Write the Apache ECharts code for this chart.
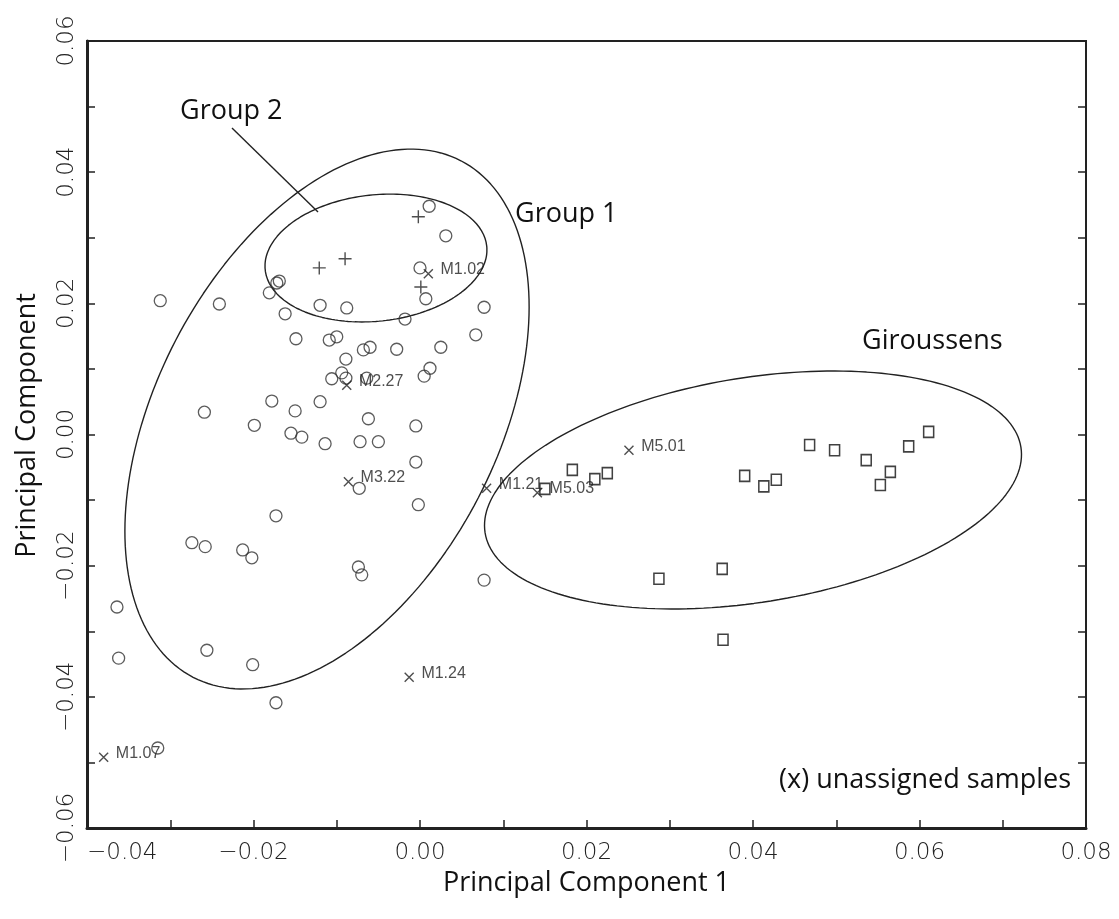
<!DOCTYPE html>
<html>
<head>
<meta charset="utf-8">
<script src="https://cdn.jsdelivr.net/npm/echarts@6/dist/echarts.min.js"></script>
<style>
html,body{margin:0;padding:0;background:#fff;}
#chart{width:1119px;height:919px;}
</style>
</head>
<body>
<div id="chart"></div>
<script>
// ---------- data ----------
const xTickLabels = ['\u22120.04', '\u22120.02', '0.00', '0.02', '0.04', '0.06', '0.08'];
const yTickLabels = ['\u22120.06', '\u22120.04', '\u22120.02', '0.00', '0.02', '0.04', '0.06'];

// Group 1 samples (circles)
const group1Points = [
  [0.0011, 0.0348], [0.0031, 0.0303], [0.0000, 0.0254], [0.0007, 0.0207],
  [-0.0172, 0.0231], [-0.0169, 0.0234], [-0.0181, 0.0216], [-0.0312, 0.0204],
  [-0.0241, 0.0199], [-0.0162, 0.0184], [-0.0120, 0.0197], [-0.0088, 0.0193],
  [-0.0018, 0.0176], [0.0077, 0.0194], [0.0067, 0.0152], [-0.0149, 0.0146],
  [-0.0109, 0.0144], [-0.0100, 0.0149], [-0.0068, 0.0129], [-0.0060, 0.0133],
  [-0.0028, 0.0130], [0.0025, 0.0133], [0.0012, 0.0101], [0.0005, 0.0089],
  [-0.0089, 0.0115], [-0.0094, 0.0094], [-0.0106, 0.0085], [-0.0089, 0.0086],
  [-0.0064, 0.0086], [-0.0259, 0.0034], [-0.0178, 0.0051], [-0.0150, 0.0036],
  [-0.0120, 0.0050], [-0.0199, 0.0014], [-0.0155, 0.0002], [-0.0142, -0.0004],
  [-0.0114, -0.0014], [-0.0062, 0.0024], [-0.0005, 0.0013], [-0.0072, -0.0011],
  [-0.0050, -0.0011], [-0.0005, -0.0042], [-0.0073, -0.0082], [-0.0002, -0.0107],
  [-0.0173, -0.0124], [-0.0274, -0.0165], [-0.0258, -0.0171], [-0.0213, -0.0176],
  [-0.0202, -0.0188], [-0.0074, -0.0202], [-0.0070, -0.0214], [0.0077, -0.0222],
  [-0.0364, -0.0263], [-0.0362, -0.0341], [-0.0256, -0.0329], [-0.0201, -0.0351],
  [-0.0173, -0.0409], [-0.0315, -0.0478]
];

// Group 2 samples (plus signs)
const group2Points = [
  [-0.0002, 0.0332], [-0.0090, 0.0268], [-0.0121, 0.0254], [0.0001, 0.0225]
];

// Giroussens samples (squares)
const giroussensPoints = [
  [0.0150, -0.0083], [0.0183, -0.0054], [0.0210, -0.0068], [0.0225, -0.0059],
  [0.0287, -0.0220], [0.0363, -0.0205], [0.0364, -0.0313], [0.0390, -0.0063],
  [0.0413, -0.0079], [0.0428, -0.0069], [0.0468, -0.0016], [0.0498, -0.0024],
  [0.0536, -0.0039], [0.0553, -0.0077], [0.0565, -0.0057], [0.0587, -0.0018],
  [0.0611, 0.0004]
];

// Unassigned samples (x)
const unassignedNames = ['M1.02', 'M2.27', 'M3.22', 'M1.21', 'M5.03', 'M5.01', 'M1.24', 'M1.07'];
const unassignedX = [0.0010, -0.0088, -0.0086, 0.0080, 0.0141, 0.0251, -0.0013, -0.0380];
const unassignedY = [0.0245, 0.0075, -0.0072, -0.0082, -0.0089, -0.0024, -0.0370, -0.0492];

// Group boundary ellipses: [centre x, centre y, half-axis U (x,y), half-axis V (x,y)]
const group1Ellipse = [-0.01117, 0.00236, 0.01608, 0.03938, -0.01819, 0.01197];
const group2Ellipse = [-0.00529, 0.02691, 0.013305, 0.001819, -0.000813, 0.009578];
const giroussensEllipse = [0.0400, -0.00846, 0.03218, 0.00654, -0.002136, 0.016921];

// ---------- build ----------
function ellipseOutline(p) {
  const [cx, cy, ux, uy, vx, vy] = p;
  const pts = [];
  const n = 200;
  for (let i = 0; i <= n; i++) {
    const t = 2 * Math.PI * i / n;
    pts.push([cx + ux * Math.cos(t) + vx * Math.sin(t), cy + uy * Math.cos(t) + vy * Math.sin(t)]);
  }
  return pts;
}

function tickFormatter(labels, minHundredths) {
  return function (v) {
    const k = Math.round(v * 100);
    if ((k - minHundredths) % 2 !== 0) return '';
    const idx = (k - minHundredths) / 2;
    return labels[idx] !== undefined ? labels[idx] : '';
  };
}

const unassignedData = unassignedNames.map((n, i) => ({ name: n, value: [unassignedX[i], unassignedY[i]] }));

const tickFont = { fontFamily: 'DejaVu Sans', fontSize: 23, fontWeight: 200, color: '#222' };
const titleFont = { fontFamily: 'Open Sans', fontSize: 27, color: '#111' };

const ellipseStyle = { color: '#222', width: 1.4 };

const chart = echarts.init(document.getElementById('chart'), null, { renderer: 'canvas' });
chart.setOption({
  animation: false,
  backgroundColor: '#fff',
  grid: { left: 87, right: 33, top: 41, bottom: 91, show: true, borderColor: '#222', borderWidth: 2, backgroundColor: 'transparent' },
  xAxis: [{
    type: 'value', min: -0.04, max: 0.08, interval: 0.01, position: 'bottom',
    axisLine: { show: true, onZero: false, lineStyle: { color: '#222', width: 3 } },
    axisTick: { show: true, inside: true, length: 8, lineStyle: { color: '#222', width: 1.5 } },
    splitLine: { show: false },
    axisLabel: Object.assign({ formatter: tickFormatter(xTickLabels, -4), margin: 14, alignMinLabel: 'left' }, tickFont),
    name: 'Principal Component 1', nameLocation: 'middle', nameGap: 40,
    nameTextStyle: titleFont
  }],
  yAxis: [{
    type: 'value', min: -0.06, max: 0.06, interval: 0.01, position: 'left',
    axisLine: { show: true, onZero: false, lineStyle: { color: '#222', width: 3 } },
    axisTick: { show: true, inside: true, length: 8, lineStyle: { color: '#222', width: 1.5 } },
    splitLine: { show: false },
    axisLabel: Object.assign({ formatter: tickFormatter(yTickLabels, -6), margin: 8, rotate: 90 }, tickFont),
    name: 'Principal Component', nameLocation: 'middle', nameGap: 46,
    nameTextStyle: Object.assign({ padding: [0, 0, 0, 18] }, titleFont)
  }, {
    type: 'value', min: -0.06, max: 0.06, interval: 0.01, position: 'right',
    axisLine: { show: true, onZero: false, lineStyle: { color: '#222', width: 2 } },
    axisTick: { show: true, inside: true, length: 8, lineStyle: { color: '#222', width: 1.5 } },
    splitLine: { show: false },
    axisLabel: { show: false }
  }],
  series: [
    { type: 'line', name: 'g1e', data: ellipseOutline(group1Ellipse), showSymbol: false, symbol: 'none', lineStyle: ellipseStyle, silent: true, z: 1 },
    { type: 'line', name: 'g2e', data: ellipseOutline(group2Ellipse), showSymbol: false, symbol: 'none', lineStyle: ellipseStyle, silent: true, z: 1 },
    { type: 'line', name: 'gie', data: ellipseOutline(giroussensEllipse), showSymbol: false, symbol: 'none', lineStyle: ellipseStyle, silent: true, z: 1 },
    {
      type: 'scatter', name: 'Group 1', data: group1Points, symbol: 'circle', symbolSize: 12,
      itemStyle: { color: 'rgba(0,0,0,0)', borderColor: '#333', borderWidth: 1.3 },
      emphasis: { disabled: true }, silent: true, z: 3
    },
    {
      type: 'scatter', name: 'Group 2', data: group2Points, symbol: 'path://M5,0L5,10M0,5L10,5', symbolSize: 13,
      itemStyle: { color: 'rgba(0,0,0,0)', borderColor: '#222', borderWidth: 1.4 },
      emphasis: { disabled: true }, silent: true, z: 3
    },
    {
      type: 'scatter', name: 'Giroussens', data: giroussensPoints, symbol: 'rect', symbolSize: [10, 11],
      itemStyle: { color: 'rgba(0,0,0,0)', borderColor: '#111', borderWidth: 1.6 },
      emphasis: { disabled: true }, silent: true, z: 3
    },
    {
      type: 'scatter', name: 'Unassigned', data: unassignedData, symbol: 'path://M0,0L10,10M10,0L0,10', symbolSize: 9,
      itemStyle: { color: 'rgba(0,0,0,0)', borderColor: '#222', borderWidth: 1.4 },
      label: { show: true, position: 'right', distance: 7, offset: [0, -4], formatter: '{b}', fontFamily: 'Liberation Sans', fontSize: 16, color: '#222' },
      emphasis: { disabled: true }, silent: true, z: 4
    }
  ],
  graphic: [
    { type: 'line', shape: { x1: 232, y1: 128, x2: 318, y2: 212 }, style: { stroke: '#222', lineWidth: 1.4 }, silent: true },
    { type: 'text', x: 180, y: 111, style: { text: 'Group 2', fontFamily: 'Open Sans', fontSize: 27, fill: '#111', align: 'left', verticalAlign: 'middle' }, silent: true },
    { type: 'text', x: 515, y: 214, style: { text: 'Group 1', fontFamily: 'Open Sans', fontSize: 27, fill: '#111', align: 'left', verticalAlign: 'middle' }, silent: true },
    { type: 'text', x: 862, y: 341, style: { text: 'Giroussens', fontFamily: 'Open Sans', fontSize: 27, fill: '#111', align: 'left', verticalAlign: 'middle' }, silent: true },
    { type: 'text', x: 1071, y: 780, style: { text: '(x) unassigned samples', fontFamily: 'Open Sans', fontSize: 27, fill: '#111', align: 'right', verticalAlign: 'middle' }, silent: true }
  ]
});
</script>
</body>
</html>
